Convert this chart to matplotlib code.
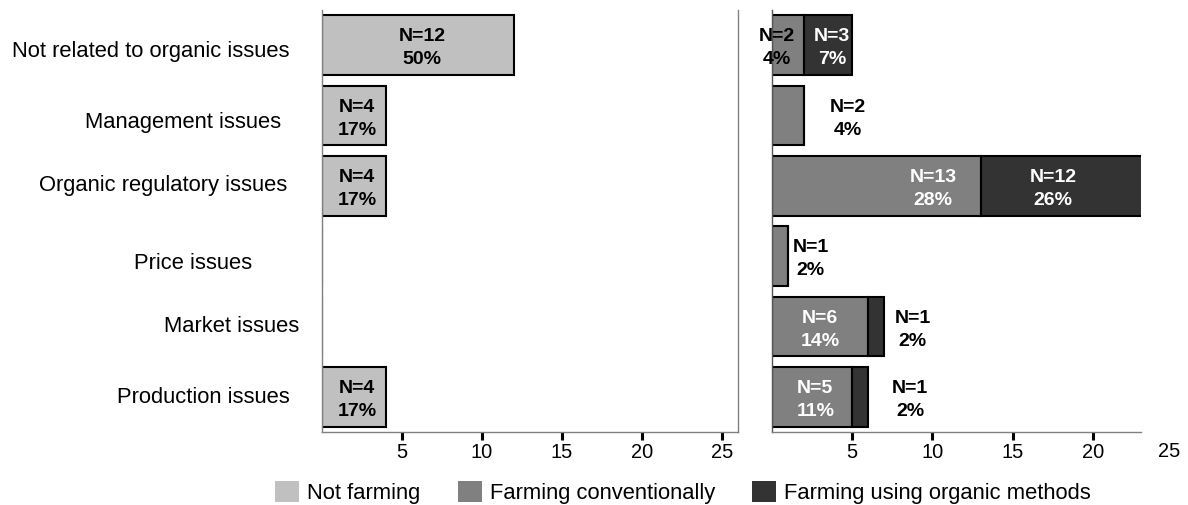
"""Reasons for not converting / converting to organic, by farming status."""

import matplotlib.pyplot as plt
from matplotlib.patches import Patch
from matplotlib.transforms import blended_transform_factory

plt.rcParams["font.family"] = ["Liberation Sans", "DejaVu Sans"]

# %% data
categories = [
    "Not related to organic issues",
    "Management issues",
    "Organic regulatory issues",
    "Price issues",
    "Market issues",
    "Production issues",
]
not_farming = [12, 4, 4, 0, 0, 4]
not_farming_pct = [50, 17, 17, 0, 0, 17]
conventional = [2, 2, 13, 1, 6, 5]
conventional_pct = [4, 4, 28, 2, 14, 11]
organic = [3, 0, 12, 0, 1, 1]
organic_pct = [7, 0, 26, 0, 2, 2]
series_names = ["Not farming", "Farming conventionally", "Farming using organic methods"]

# %% style / layout
C_LIGHT, C_MID, C_DARK = "#c0c0c0", "#808080", "#333333"
FS_BAR = 14
FS_TICK = 14.4
FS_CAT = 15.8
FS_LEG = 15.8
LS = 1.45
BAR_H = 0.85
W, H = 1188, 506

# label placement (data x) for the bar annotations
nf_label_x = [6.25, 2.2, 2.2, None, None, 2.2]
conv_label_x = [0.3, 4.75, 10.05, 2.4, 3.0, 2.7]
conv_label_col = ["black", "black", "white", "black", "white", "white"]
org_label_x = [3.75, None, 17.5, None, 8.75, 8.6]
org_label_col = ["white", None, "white", None, "black", "black"]
# category label right edges (px) and small vertical nudges (px)
cat_right_px = [289, 281, 287, 252, 299, 290]
cat_dy_px = [5, 6, -1, 6, -1, 0]

fig = plt.figure(figsize=(W / 100, H / 100), dpi=100)
bottom = 1 - 433 / H
top = 1 - 11 / H
ax1 = fig.add_axes([322 / W, bottom, (738 - 322) / W, top - bottom])
ax2 = fig.add_axes([772 / W, bottom, (1141 - 772) / W, top - bottom])

ypos = list(range(len(categories)))


def lbl(n, p):
    return f"N={n}\n{p}%"


# left panel: not farming
ax1.barh(ypos, not_farming, height=BAR_H, color=C_LIGHT,
         edgecolor="black", linewidth=1.5)
for i, (n, p) in enumerate(zip(not_farming, not_farming_pct)):
    if n:
        ax1.text(nf_label_x[i], i + 0.03, lbl(n, p), ha="center", va="center",
                 fontsize=FS_BAR, fontweight="bold", color="black", linespacing=LS)

# right panel: conventional + organic stacked
ax2.barh(ypos, conventional, height=BAR_H, color=C_MID,
         edgecolor="black", linewidth=1.5)
ax2.barh(ypos, organic, left=conventional, height=BAR_H, color=C_DARK,
         edgecolor="black", linewidth=1.5)
for i in ypos:
    if conventional[i]:
        ax2.text(conv_label_x[i], i + 0.03, lbl(conventional[i], conventional_pct[i]),
                 ha="center", va="center", fontsize=FS_BAR, fontweight="bold",
                 color=conv_label_col[i], linespacing=LS, clip_on=False)
    if organic[i]:
        ax2.text(org_label_x[i], i + 0.03, lbl(organic[i], organic_pct[i]),
                 ha="center", va="center", fontsize=FS_BAR, fontweight="bold",
                 color=org_label_col[i], linespacing=LS, clip_on=False)

for ax, xmax, ticks in [(ax1, 26, [5, 10, 15, 20, 25]), (ax2, 23, [5, 10, 15, 20])]:
    ax.set_ylim(len(categories) - 0.5, -0.5)
    ax.set_xlim(0, xmax)
    ax.set_yticks([])
    ax.set_xticks(ticks)
    ax.tick_params(axis="x", direction="out", length=6, width=2.2,
                   color="black", labelsize=FS_TICK, pad=1.5)
    ax.spines["top"].set_visible(False)
    for s in ["left", "bottom", "right"]:
        ax.spines[s].set_color("#808080")
        ax.spines[s].set_linewidth(1.0)

ax2.spines["right"].set_visible(False)
ax2.spines["left"].set_color("#555555")
# the "25" label sits beyond the clipped right panel
ax2.text(24.75, -0.022, "25", transform=blended_transform_factory(ax2.transData, ax2.transAxes),
         ha="center", va="top", fontsize=FS_TICK, clip_on=False)

# category labels
tr = blended_transform_factory(fig.transFigure, ax1.transData)
for i, cat in enumerate(categories):
    t = fig.text(cat_right_px[i] / W, i, cat, ha="right", va="center",
                 fontsize=FS_CAT, transform=tr)
    t.set_y(i + cat_dy_px[i] / 70.4)

handles = [Patch(facecolor=c, edgecolor="none") for c in (C_LIGHT, C_MID, C_DARK)]
fig.legend(handles, series_names, loc="center", bbox_to_anchor=(683 / W, 1 - 493 / H),
           ncol=3, frameon=False, fontsize=FS_LEG, handlelength=1.1, handleheight=1.1,
           handletextpad=0.35, columnspacing=1.7, borderpad=0)

fig.savefig("out.png", dpi=100)
